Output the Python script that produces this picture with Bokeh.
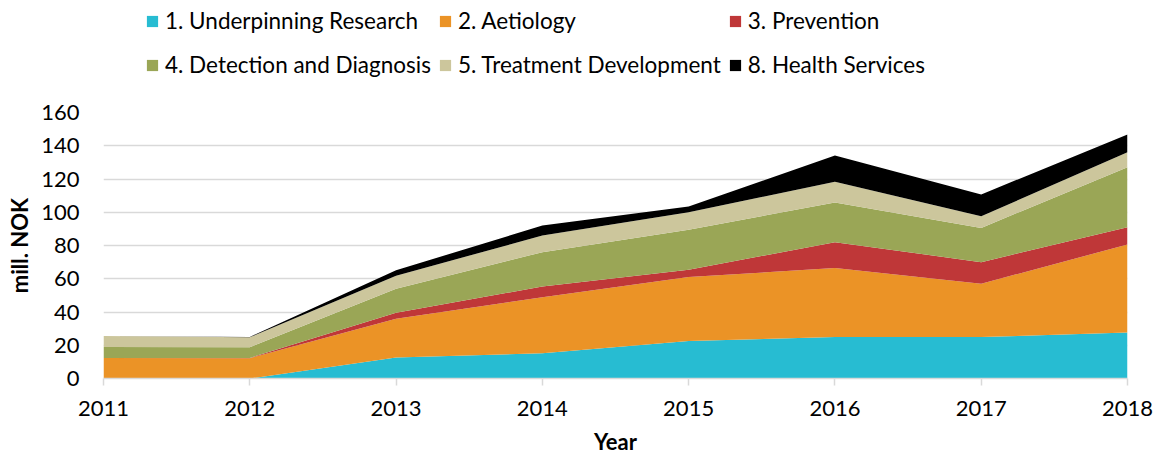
from bokeh.plotting import figure
from bokeh.layouts import column
from bokeh.models import Legend, LegendItem, ColumnDataSource, Range1d, FixedTicker
from bokeh.embed import file_html
from bokeh.resources import INLINE

years = [2011, 2012, 2013, 2014, 2015, 2016, 2017, 2018]
underpinning = [0, 0, 12.7, 15.2, 22.5, 24.9, 24.9, 27.7]
aetiology = [12.4, 12.2, 23.3, 33.7, 38.5, 41.5, 32.1, 52.9]
prevention = [0, 0.2, 3.5, 6.4, 4.4, 15.6, 13.0, 10.4]
detection = [6.6, 6.4, 14.5, 20.7, 24.0, 23.9, 20.6, 36.1]
treatment = [6.6, 6.0, 7.8, 10.0, 10.6, 12.4, 7.0, 9.0]
health = [0, 0.2, 3.3, 6.0, 3.5, 15.8, 13.1, 10.7]

names = ["1. Underpinning Research", "2. Aetiology", "3. Prevention",
         "4. Detection and Diagnosis", "5. Treatment Development", "8. Health Services"]
keys = ["s1", "s2", "s3", "s4", "s5", "s8"]
colors = ["#27bcd2", "#eb9326", "#bf3738", "#9aa656", "#ccc69c", "#000000"]
y_ticks = [0, 20, 40, 60, 80, 100, 120, 140, 160]

source = ColumnDataSource(dict(year=years, s1=underpinning, s2=aetiology, s3=prevention,
                               s4=detection, s5=treatment, s8=health))

FONT = "Lato"
W = 1158
LEG_H = 90

# ---- main chart ----
p = figure(width=W, height=457 - LEG_H, output_backend="svg", toolbar_location=None,
           x_range=Range1d(2011, 2018), y_range=Range1d(0, 160),
           min_border_left=103, min_border_right=31, min_border_top=22, min_border_bottom=79)
p.outline_line_color = None

p.varea_stack(stackers=keys, x="year", color=colors, source=source)

p.xaxis.ticker = FixedTicker(ticks=years)
p.yaxis.ticker = FixedTicker(ticks=y_ticks)
p.xaxis.axis_line_color = "#d9d9d9"
p.xaxis.axis_line_width = 1.5
p.xaxis.major_tick_line_color = "#d9d9d9"
p.xaxis.major_tick_line_width = 1.5
p.xaxis.major_tick_out = 7
p.xaxis.major_tick_in = 0
p.xaxis.minor_tick_line_color = None
p.xaxis.major_label_standoff = 15
p.yaxis.axis_line_color = None
p.yaxis.major_tick_line_color = None
p.yaxis.minor_tick_line_color = None
p.yaxis.major_label_standoff = 18
for ax in (p.xaxis, p.yaxis):
    ax.major_label_text_font = FONT
    ax.major_label_text_font_size = "22px"
    ax.major_label_text_color = "#000000"
    ax.axis_label_text_font = FONT
    ax.axis_label_text_font_size = "22px"
    ax.axis_label_text_font_style = "bold"
    ax.axis_label_text_color = "#000000"
p.xaxis.axis_label = "Year"
p.yaxis.axis_label = "mill. NOK"
p.xaxis.axis_label_standoff = 9
p.yaxis.axis_label_standoff = 5

p.xgrid.grid_line_color = None
p.ygrid.grid_line_color = "#d9d9d9"
p.ygrid.grid_line_width = 1.5

# ---- legend strip (its areas lie outside its own y range, only the legend shows) ----
lg = figure(width=W, height=LEG_H, output_backend="svg", toolbar_location=None,
            x_range=Range1d(2011, 2018), y_range=Range1d(1000, 1001),
            x_axis_location=None, y_axis_location=None,
            min_border_left=0, min_border_right=0, min_border_top=0, min_border_bottom=0)
lg.outline_line_color = None
lg.grid.visible = False
leg_renderers = lg.varea_stack(stackers=keys, x="year", color=colors, source=source)

items = [LegendItem(label=n, renderers=[r]) for n, r in zip(names, leg_renderers)]
legend = Legend(items=items, orientation="horizontal", ncols=3,
                border_line_color=None, background_fill_alpha=0,
                label_text_font=FONT, label_text_font_size="22.5px", label_text_color="#000000",
                glyph_width=14, glyph_height=14, label_standoff=6, spacing=7,
                label_height=37, padding=0, margin=0,
                location=(42, 7))
lg.add_layout(legend, "center")

layout = column(lg, p, spacing=0)
open("out.html", "w").write(file_html(layout, INLINE))
